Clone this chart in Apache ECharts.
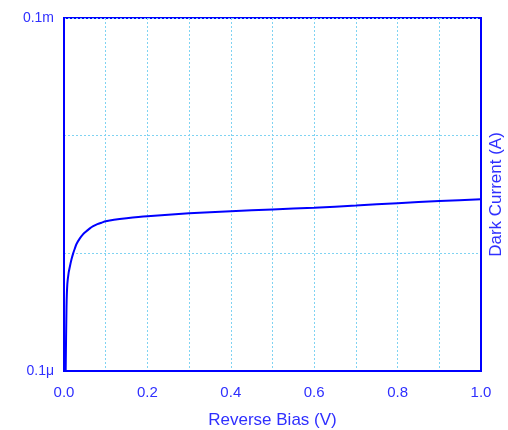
<!DOCTYPE html>
<html lang="en">
<head>
    <meta charset="UTF-8">
    <title>Dark Current</title>
    <script src="https://cdn.jsdelivr.net/npm/echarts@6/dist/echarts.min.js"></script>
    <style>
        html, body { margin: 0; padding: 0; background: #fff; }
        #main { width: 508px; height: 430px; }
    </style>
</head>
<body>
<div id="main"></div>
<script>
    // reverse bias (V) and dark current (A)
    const biasV = [0.004, 0.006, 0.008, 0.011, 0.014, 0.018, 0.022, 0.026, 0.03, 0.038, 0.045, 0.05, 0.062, 0.07, 0.08, 0.09, 0.1, 0.12, 0.15, 0.2, 0.3, 0.4, 0.5, 0.6, 0.7, 0.8, 0.9, 1.0];
    const darkA = [1e-7, 3.5e-7, 5.5e-7, 6.8e-7, 7.7e-7, 8.9e-7, 1.0e-6, 1.1e-6, 1.2e-6, 1.34e-6, 1.44e-6, 1.5e-6, 1.63e-6, 1.7e-6, 1.77e-6, 1.82e-6, 1.87e-6, 1.93e-6, 1.99e-6, 2.07e-6, 2.19e-6, 2.28e-6, 2.36e-6, 2.44e-6, 2.55e-6, 2.67e-6, 2.78e-6, 2.88e-6];
    const yTickText = { '-7': '0.1\u03bc', '-4': '0.1m' };

    const blue = '#0000ff';
    const textBlue = '#2f2fff';
    const gridBlue = '#7fd3f2';

    const series = biasV.map(function (v, i) { return [v, darkA[i]]; });

    const myChart = echarts.init(document.getElementById('main'));
    const option = {
        animation: false,
        textStyle: { fontFamily: 'Liberation Sans' },
        grid: {
            left: 64, top: 18, right: 27, bottom: 59,
            outerBoundsMode: 'none',
            containLabel: false,
            show: true, borderColor: blue, borderWidth: 2
        },
        xAxis: {
            type: 'value',
            min: 0, max: 1, interval: 0.1,
            name: 'Reverse Bias (V)',
            nameLocation: 'middle',
            nameGap: 41,
            nameTextStyle: { color: textBlue, fontSize: 17 },
            axisLine: { show: true, lineStyle: { color: blue, width: 2 } },
            axisTick: { show: false },
            axisLabel: {
                color: textBlue, fontSize: 15, margin: 14,
                formatter: function (v) {
                    const k = Math.round(v * 10);
                    return k % 2 === 0 ? (k / 10).toFixed(1) : '';
                }
            },
            splitLine: { show: true, lineStyle: { color: gridBlue, type: [2, 2], width: 1 } }
        },
        yAxis: [{
            type: 'log',
            logBase: 10,
            min: 1e-7, max: 1e-4,
            axisLine: { show: true, lineStyle: { color: blue, width: 2 } },
            axisTick: { show: false },
            axisLabel: {
                color: textBlue, fontSize: 14, margin: 10,
                formatter: function (v) {
                    const e = Math.round(Math.log10(v));
                    return yTickText[e] || '';
                }
            },
            splitLine: { show: true, lineStyle: { color: gridBlue, type: [2, 2], width: 1 } }
        }, {
            type: 'log',
            logBase: 10,
            min: 1e-7, max: 1e-4,
            position: 'right',
            name: 'Dark Current (A)',
            nameLocation: 'middle',
            nameRotate: 90,
            nameGap: 7,
            nameTextStyle: { color: textBlue, fontSize: 17 },
            axisLine: { show: true, lineStyle: { color: blue, width: 2 } },
            axisTick: { show: false },
            axisLabel: { show: false },
            splitLine: { show: false }
        }],
        series: [{
            type: 'line',
            data: series,
            showSymbol: false,
            smooth: 0.2,
            lineStyle: { color: blue, width: 2 }
        }]
    };
    myChart.setOption(option);
</script>
</body>
</html>
